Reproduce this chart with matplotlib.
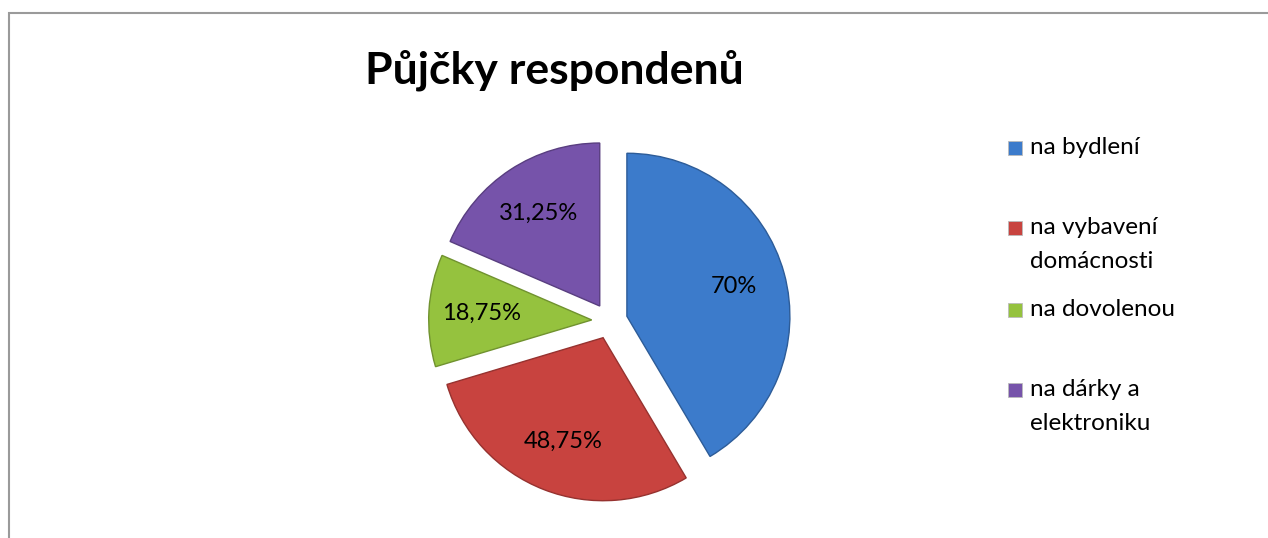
import matplotlib
matplotlib.use("Agg")
import matplotlib.pyplot as plt
from matplotlib.patches import Rectangle
import matplotlib.colors as mcolors

categories = ["na bydlení", "na vybavení\ndomácnosti", "na dovolenou", "na dárky a\nelektroniku"]
values = [70, 48.75, 18.75, 31.25]
value_labels = ["70%", "48,75%", "18,75%", "31,25%"]
colors = ["#3C7BCB", "#C8433F", "#95C23E", "#7653AA"]
title = "Půjčky respondenů"

plt.rcParams['font.family'] = ['Lato', 'DejaVu Sans']

W, H = 1268, 538
fig = plt.figure(figsize=(W / 100, H / 100), dpi=100)
fig.patch.set_facecolor("white")

# outer border (top/left visible, right/bottom beyond image)
fig.add_artist(Rectangle((9 / W, -0.1), 1.2, (H - 13) / H + 0.1, transform=fig.transFigure,
                         fill=False, edgecolor="#9a9a9a", linewidth=1.5))

# pie axes: square in pixels
cx, cy, R = 609.6, 321.0, 163.0
lim = 1.35
side = 2 * lim * R
ax = fig.add_axes([(cx - side / 2) / W, (H - cy - side / 2) / H, side / W, side / H])
wedges, texts, autotexts = ax.pie(values, colors=colors, startangle=90, counterclock=False,
                                  explode=[0.11] * len(values), autopct='%1.1f',
                                  pctdistance=0.68)
for w, c in zip(wedges, colors):
    r, g, b = mcolors.to_rgb(c)
    w.set_edgecolor((r * 0.75, g * 0.75, b * 0.75))
    w.set_linewidth(1.0)
for t, lab in zip(autotexts, value_labels):
    t.set_text(lab)
    t.set_fontsize(17)
    t.set_color("black")
ax.set_xlim(-lim, lim)
ax.set_ylim(-lim, lim)
ax.set_aspect('equal')
ax.axis('off')

fig.text(554 / W, 1 - 70 / H, title, ha="center", va="center", fontsize=32, fontweight="bold")

# legend
legend_y = [148, 228, 310, 390]
line_gap = 34
for lab, col, y in zip(categories, colors, legend_y):
    fig.add_artist(Rectangle((1008 / W, 1 - (y + 7) / H), 14 / W, 14 / H,
                             transform=fig.transFigure, facecolor=col, edgecolor="#bbbbbb", linewidth=0.6))
    for i, line in enumerate(lab.split("\n")):
        fig.text(1030 / W, 1 - (y + i * line_gap) / H, line, ha="left", va="center",
                 fontsize=17.5)

fig.savefig("out.png", dpi=100)
